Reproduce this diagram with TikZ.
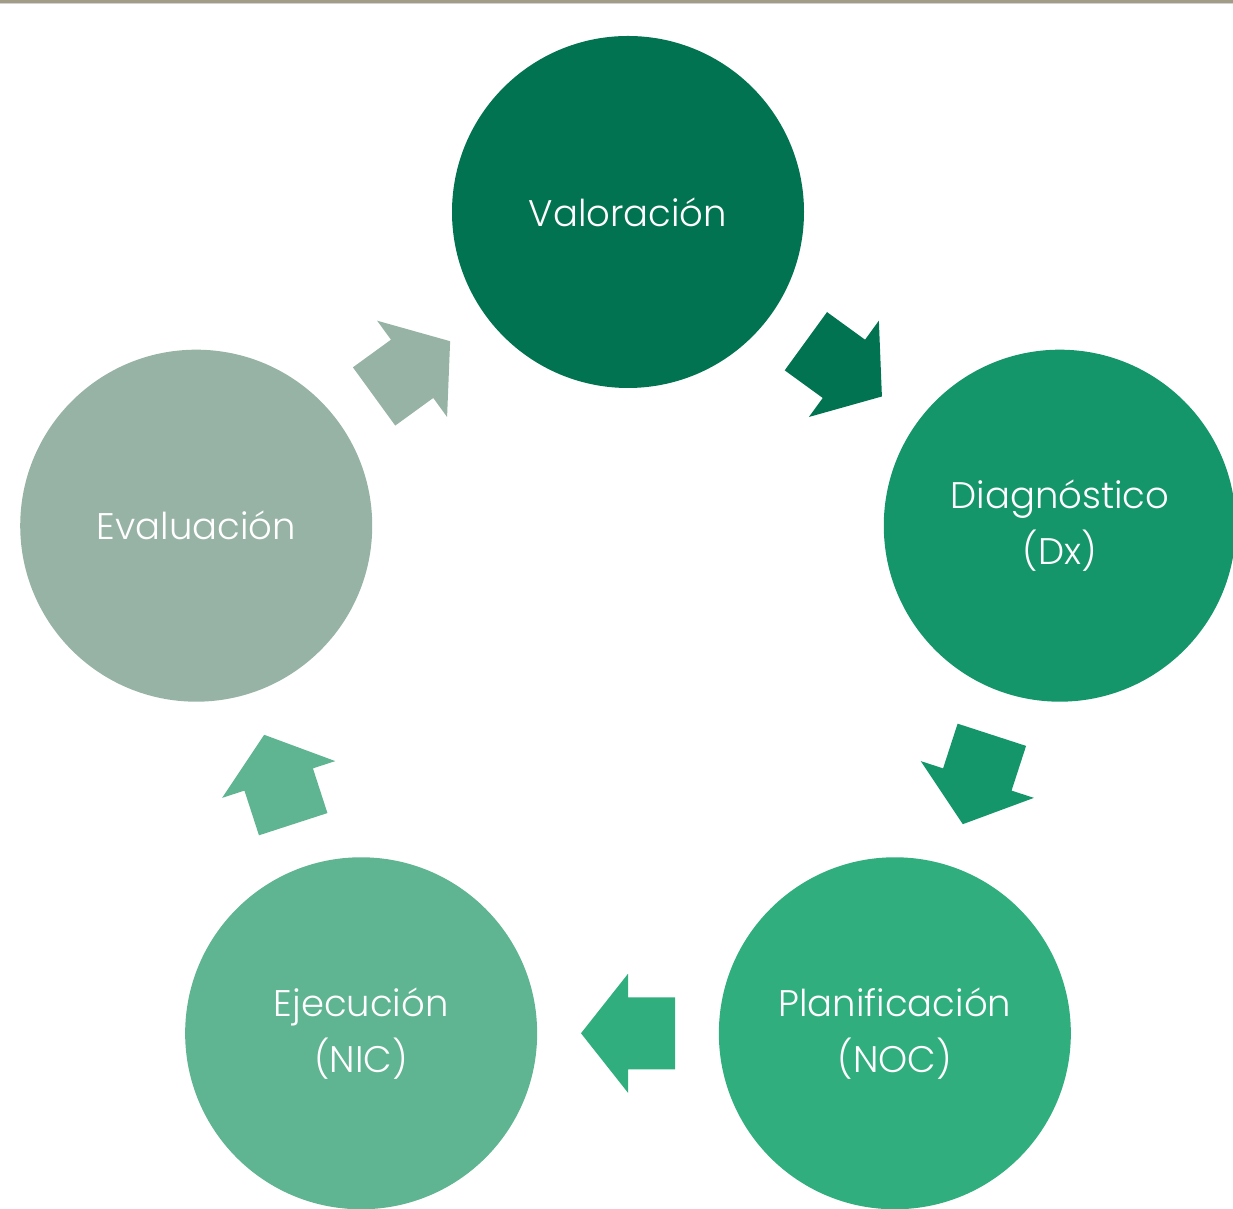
\documentclass[tikz,border=0pt]{standalone}
\usepackage{fontspec}
\setmainfont{Poppins Light}
\usetikzlibrary{calc}

\definecolor{valcol}{HTML}{027350}
\definecolor{diagcol}{HTML}{14966A}
\definecolor{plancol}{HTML}{30AE7E}
\definecolor{ejeccol}{HTML}{5FB491}
\definecolor{evalcol}{HTML}{97B3A5}
\definecolor{stripcol}{HTML}{A19C85}

\tikzset{
  phase/.style={circle, minimum size=176pt, inner sep=0pt, text=white,
    align=center, font=\fontsize{18.5}{28}\selectfont},
  cyclearrow/.pic={
    \fill (-47,-36) -- (0,-36) -- (0,-59.5) -- (47,0) -- (0,59.5) -- (0,36) -- (-47,36) -- cycle;
  }
}

\begin{document}
\begin{tikzpicture}[x=0.5pt,y=0.5pt]
	\useasboundingbox (0,0) rectangle (1233,1209);
	\clip (0,0) rectangle (1233,1209);
	% strip at the top
	\fill[stripcol] (0,1205.5) rectangle (1233,1209);
	\fill[gray!35] (0,1204.5) rectangle (1233,1205.5);
	
	\coordinate (c) at (628,543);
	\node[phase, fill=valcol] (val) at ($(c)+(90:454)$) {Valoración};
	\node[phase, fill=diagcol] (diag) at ($(c)+(18:454)$) {Diagnóstico\\(Dx)};
	\node[phase, fill=plancol] (plan) at ($(c)+(-54:454)$) {Planificación\\(NOC)};
	\node[phase, fill=ejeccol] (ejec) at ($(c)+(-126:454)$) {Ejecución\\(NIC)};
	\node[phase, fill=evalcol] (eval) at ($(c)+(162:454)$) {Evaluación};
	
	% arrows between the phases
	\pic[fill=valcol, rotate=-36] at ($(val)!0.5!(diag)$) {cyclearrow};
	\pic[fill=diagcol, rotate=-108] at ($(diag)!0.5!(plan)$) {cyclearrow};
	\pic[fill=plancol, rotate=180] at ($(plan)!0.5!(ejec)$) {cyclearrow};
	\pic[fill=ejeccol, rotate=108] at ($(ejec)!0.5!(eval)$) {cyclearrow};
	\pic[fill=evalcol, rotate=36] at ($(eval)!0.5!(val)$) {cyclearrow};
\end{tikzpicture}
\end{document}
